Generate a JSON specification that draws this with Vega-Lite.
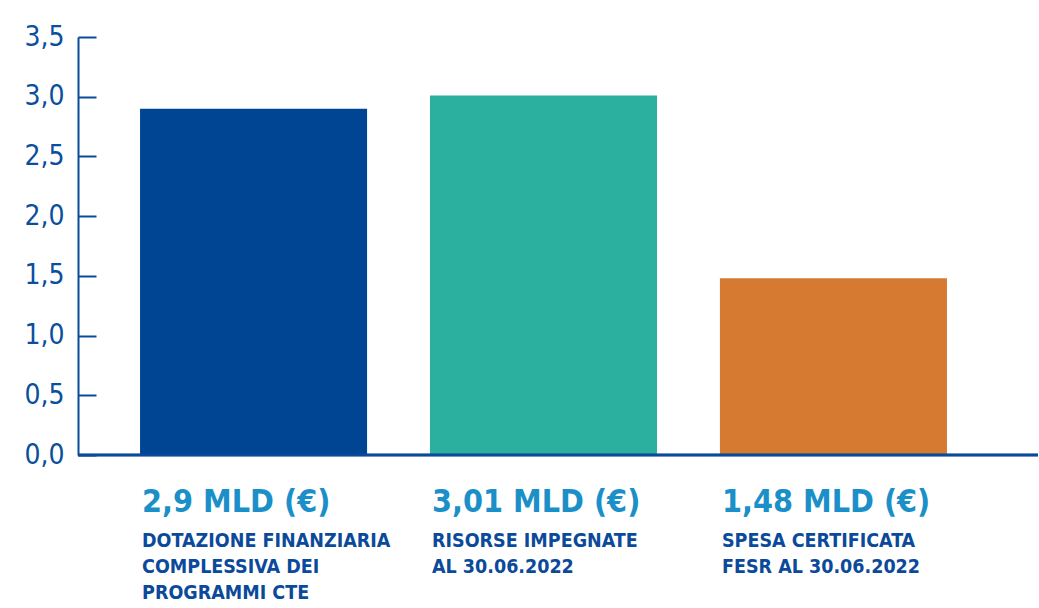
{
  "$schema": "https://vega.github.io/schema/vega-lite/v6.json",
  "width": 960,
  "height": 418,
  "autosize": "none",
  "padding": {"left": 78, "top": 37, "right": 1, "bottom": 153},
  "background": "white",
  "config": {"view": {"stroke": null}, "font": "DejaVu Sans Condensed, Roboto Condensed, Roboto, sans-serif"},
  "data": {
    "values": [
      {"cat": "A", "value": 2.9, "head": "2,9 MLD (€)", "desc": ["DOTAZIONE FINANZIARIA", "COMPLESSIVA DEI", "PROGRAMMI CTE"], "color": "#004494"},
      {"cat": "B", "value": 3.01, "head": "3,01 MLD (€)", "desc": ["RISORSE IMPEGNATE", "AL 30.06.2022"], "color": "#2bb0a0"},
      {"cat": "C", "value": 1.48, "head": "1,48 MLD (€)", "desc": ["SPESA CERTIFICATA", "FESR AL 30.06.2022"], "color": "#d67a31"}
    ]
  },
  "encoding": {
    "x": {"field": "cat", "type": "nominal", "scale": {"domain": ["A", "B", "C"], "rangeMax": 931, "paddingInner": 0.217, "paddingOuter": 0.214}, "axis": null}
  },
  "layer": [
    {
      "mark": {"type": "bar"},
      "encoding": {
        "y": {"field": "value", "type": "quantitative", "scale": {"domain": [0, 3.5], "nice": false},
          "axis": {"values": [0, 0.5, 1, 1.5, 2, 2.5, 3, 3.5], "labelExpr": "replace(format(datum.value, '.1f'), '.', ',')", "grid": false, "title": null,
            "domainColor": "#0a4a9a", "domainWidth": 2, "tickColor": "#0a4a9a", "tickWidth": 2, "tickSize": -18,
            "labelColor": "#0a4f9e", "labelFontSize": 28, "labelPadding": 32, "labelFont": "DejaVu Sans Condensed, Roboto Condensed, Roboto, sans-serif"}},
        "color": {"field": "color", "type": "nominal", "scale": null}
      }
    },
    {
      "mark": {"type": "rule", "color": "#0a4a9a", "strokeWidth": 2.5},
      "encoding": {"y": {"datum": 0}, "x": null}
    },
    {
      "mark": {"type": "text", "align": "left", "baseline": "alphabetic", "dy": 57, "dx": 2, "fontSize": 32, "fontWeight": "bold", "color": "#1a8fc8"},
      "encoding": {
        "x": {"field": "cat", "type": "nominal", "bandPosition": 0},
        "y": {"datum": 0},
        "text": {"field": "head"}
      }
    },
    {
      "mark": {"type": "text", "align": "left", "baseline": "alphabetic", "dy": 92, "dx": 2, "fontSize": 19.5, "fontWeight": "bold", "lineHeight": 26, "color": "#0b4a9a"},
      "encoding": {
        "x": {"field": "cat", "type": "nominal", "bandPosition": 0},
        "y": {"datum": 0},
        "text": {"field": "desc"}
      }
    }
  ]
}
